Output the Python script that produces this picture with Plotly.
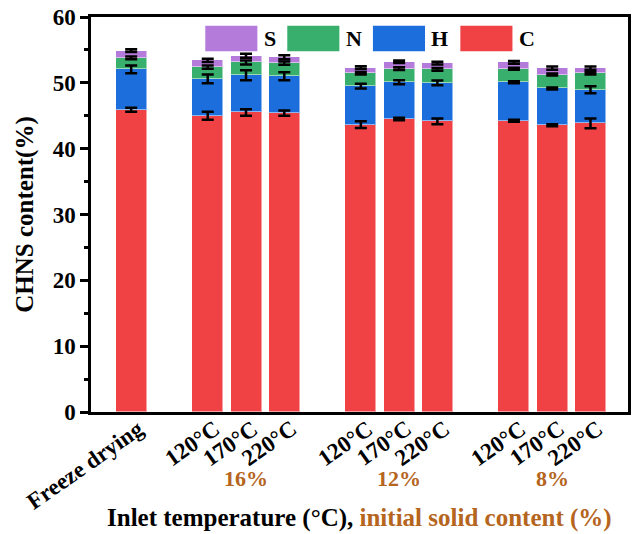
import plotly.graph_objects as go

# ---- data ----
slots = [0, 2, 3, 4, 6, 7, 8, 10, 11, 12]
tick_labels = ["Freeze drying", "120\u00b0C", "170\u00b0C", "220\u00b0C",
               "120\u00b0C", "170\u00b0C", "220\u00b0C",
               "120\u00b0C", "170\u00b0C", "220\u00b0C"]
group_labels = ["16%", "12%", "8%"]
group_slots = [3, 7, 11]

C_vals = [45.9, 45.0, 45.5, 45.4, 43.65, 44.5, 44.15, 44.25, 43.55, 43.85]
H_vals = [6.15, 5.6, 5.65, 5.6, 5.85, 5.6, 5.85, 5.85, 5.6, 5.1]
N_vals = [1.75, 1.8, 1.95, 2.0, 1.95, 2.05, 2.05, 2.05, 2.1, 2.5]
S_vals = [1.1, 1.0, 1.0, 0.9, 0.85, 1.05, 0.95, 0.95, 1.0, 0.8]

C_err = [0.3, 0.6, 0.5, 0.4, 0.5, 0.2, 0.45, 0.15, 0.15, 0.75]
H_err = [0.6, 0.65, 0.75, 0.6, 0.35, 0.3, 0.35, 0.15, 0.15, 0.55]
N_err = [0.2, 0.25, 0.3, 0.25, 0.2, 0.2, 0.2, 0.15, 0.15, 0.2]
S_err = [0.2, 0.25, 0.3, 0.3, 0.2, 0.2, 0.2, 0.2, 0.25, 0.25]

series_names = ["C", "H", "N", "S"]
series_vals = [C_vals, H_vals, N_vals, S_vals]
series_errs = [C_err, H_err, N_err, S_err]
series_colors = ["#F04144", "#1B6EDC", "#38AF6D", "#B57BDB"]

FONT = "Liberation Serif"
BROWN = "#B5651D"

fig = go.Figure()
for name, vals, col in zip(series_names, series_vals, series_colors):
    fig.add_trace(go.Bar(
        x=slots, y=vals, name=name, width=0.81,
        marker=dict(color=col, line=dict(color="rgba(255,255,255,0.5)", width=1)),
        showlegend=False,
    ))

# error bars drawn on top of the stacked segments
cum = [0.0] * len(slots)
for name, vals, errs in zip(series_names, series_vals, series_errs):
    cum = [c + v for c, v in zip(cum, vals)]
    fig.add_trace(go.Scatter(
        x=slots, y=cum, mode="markers", marker=dict(size=1, color="rgba(0,0,0,0)"),
        error_y=dict(type="data", array=errs, visible=True, color="black",
                     thickness=2.5, width=6),
        showlegend=False, hoverinfo="skip",
    ))

# custom legend (order S, N, H, C)
leg_order = ["S", "N", "H", "C"]
box_x0 = [0.2128, 0.3655, 0.525, 0.6878]
box_w = 0.097
for nm, x0 in zip(leg_order, box_x0):
    col = series_colors[series_names.index(nm)]
    fig.add_shape(type="rect", xref="paper", yref="paper", x0=x0, x1=x0 + box_w,
                  y0=0.913, y1=0.978, fillcolor=col, line=dict(width=0))
    fig.add_annotation(xref="paper", yref="paper", x=x0 + box_w + 0.008, y=0.946,
                       text="<b>%s</b>" % nm, showarrow=False, xanchor="left", yanchor="middle",
                       font=dict(family=FONT, size=22, color="black"))

# rotated tick labels
for s, t in zip(slots, tick_labels):
    fig.add_annotation(xref="x", yref="paper", x=s, y=0, text="<b>%s</b>" % t,
                       showarrow=False, textangle=-35, xanchor="right", yanchor="top",
                       xshift=19, yshift=-1,
                       font=dict(family=FONT, size=23, color="black"))

for s, t in zip(group_slots, group_labels):
    fig.add_annotation(xref="x", yref="paper", x=s, y=0, text="<b>%s</b>" % t,
                       showarrow=False, xanchor="center", yanchor="middle",
                       yshift=-66, font=dict(family=FONT, size=22, color=BROWN))

fig.add_annotation(xref="paper", yref="paper", x=0.5, y=0, yshift=-106,
                   text="<b>Inlet temperature (\u00b0C), </b><b><span style='color:%s'>initial solid content (%%)</span></b>" % BROWN,
                   showarrow=False, xanchor="center", yanchor="middle",
                   font=dict(family=FONT, size=25, color="black"))

fig.update_layout(
    barmode="stack",
    width=636, height=534,
    margin=dict(l=91, r=5, t=17, b=122),
    paper_bgcolor="white", plot_bgcolor="white",
    font=dict(family=FONT, color="black"),
    bargap=0,
)
fig.update_xaxes(range=[-1.05, 12.98], showticklabels=False, ticks="",
                 showline=True, linecolor="black", linewidth=2.5, mirror=True,
                 showgrid=False, zeroline=False)
fig.update_yaxes(range=[0, 60], tickvals=[0, 10, 20, 30, 40, 50, 60],
                 ticks="outside", ticklen=8, tickwidth=2.5, tickcolor="black",
                 minor=dict(tickvals=[5, 15, 25, 35, 45, 55], ticks="outside",
                            ticklen=4, tickwidth=2.5, tickcolor="black"),
                 tickfont=dict(family=FONT, size=23, color="black", weight="bold"),
                 showline=True, linecolor="black", linewidth=2.5, mirror=True,
                 showgrid=False, zeroline=False,
                 title=dict(text="<b>CHNS content(%)</b>", standoff=12,
                            font=dict(family=FONT, size=25, color="black")))

fig.write_html("out.html")
